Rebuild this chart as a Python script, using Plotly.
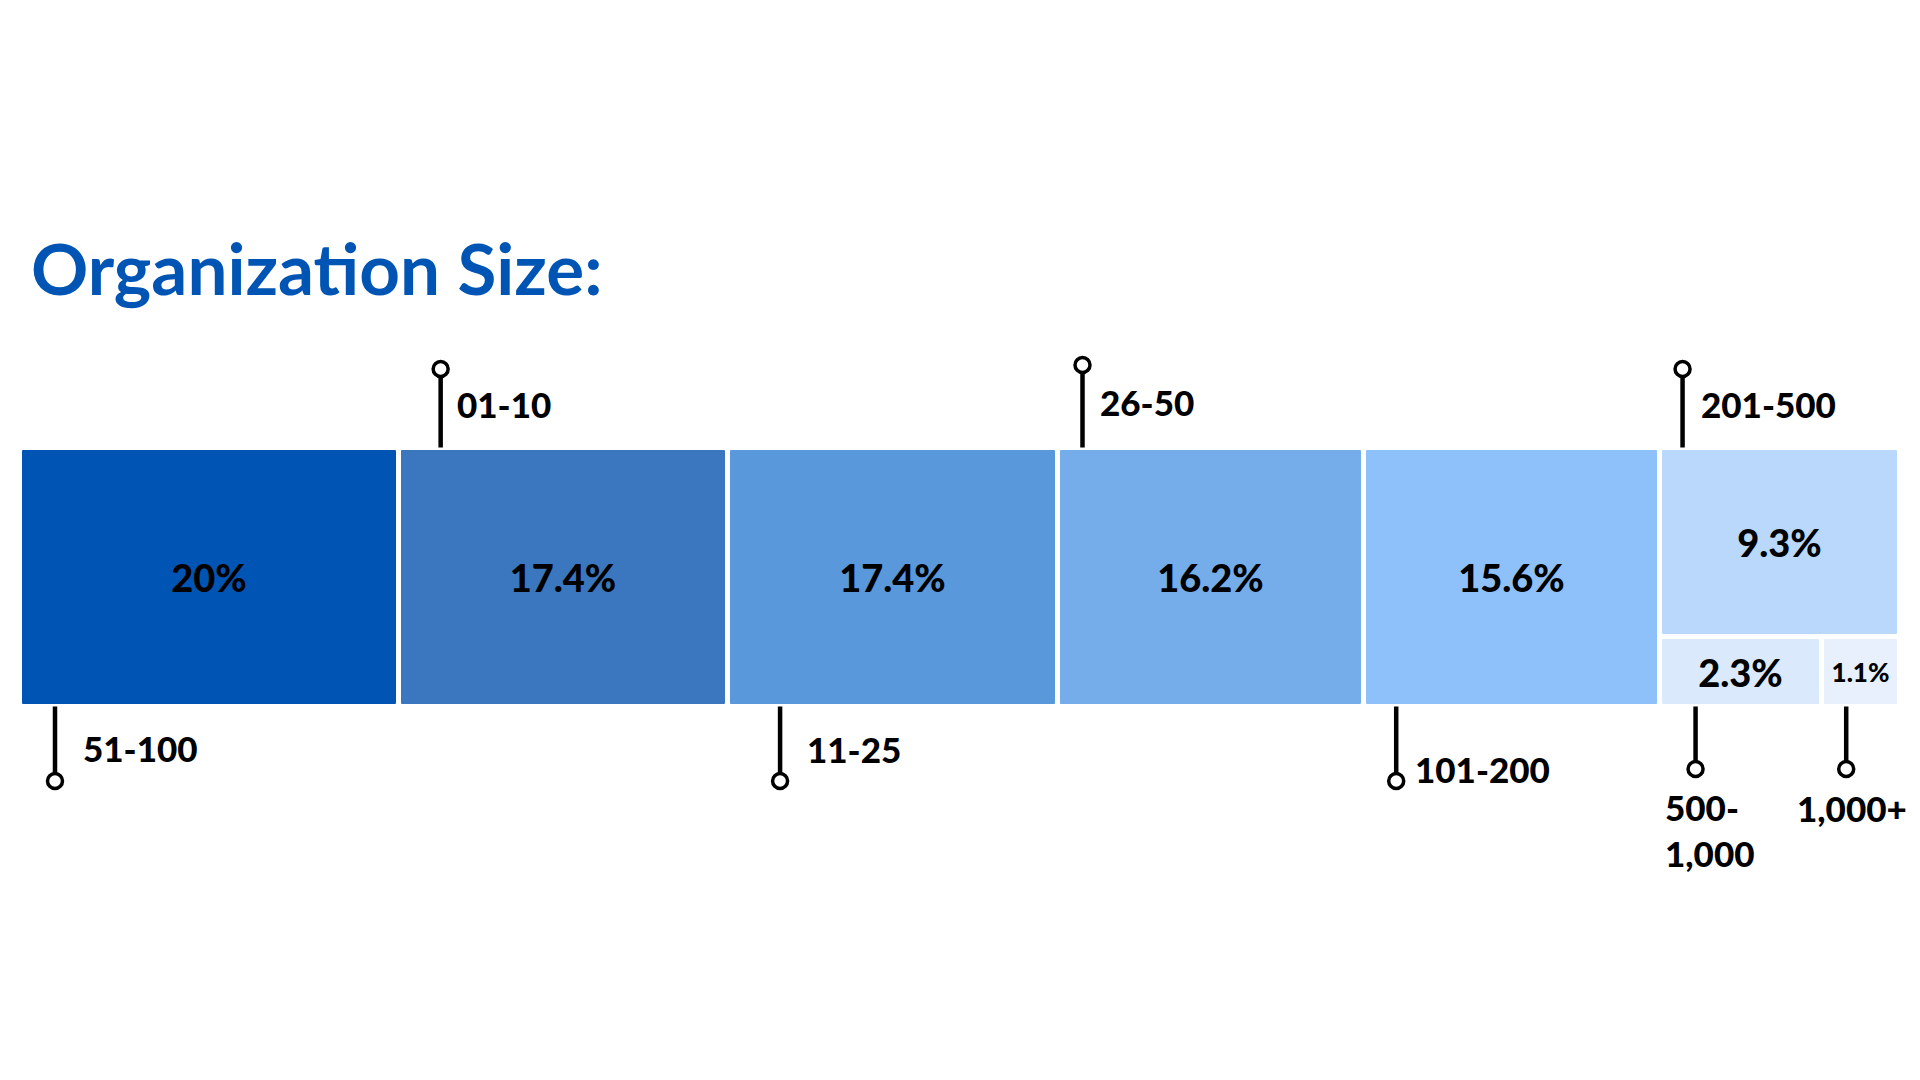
import plotly.graph_objects as go

# ---------------- data ----------------
categories = ["51-100", "01-10", "11-25", "26-50", "101-200", "201-500", "500-1,000", "1,000+"]
values = [20.0, 17.4, 17.4, 16.2, 15.6, 9.3, 2.3, 1.1]
value_labels = ["20%", "17.4%", "17.4%", "16.2%", "15.6%", "9.3%", "2.3%", "1.1%"]
colors = ["#0055B4", "#3A77BE", "#5A98DC", "#74ADEA", "#8EC0FA", "#B9D8FC", "#DAEAFC", "#E7F0FC"]
title_text = "Organization Size:"

# ---------------- geometry (slice-and-dice treemap) ----------------
W, H = 1920, 1080
OFF = 8                      # page body margin offset
ML, MR = 20 - OFF, 20 + OFF
PW = W - ML - MR
total = sum(values)
main = values[:5]
group = values[5:]           # 201-500 on top, then 500-1000 | 1000+ below
gw = sum(group)

lefts, widths, bases, heights = [], [], [], []
x = 0.0
for v in main:
    lefts.append(x); widths.append(v); bases.append(0.0); heights.append(1.0)
    x += v
gx = x
bottom_h = (group[1] + group[2]) / gw
lefts.append(gx); widths.append(gw); bases.append(bottom_h); heights.append(group[0] / gw)
w1 = gw * group[1] / (group[1] + group[2])
w2 = gw * group[2] / (group[1] + group[2])
lefts.append(gx); widths.append(w1); bases.append(0.0); heights.append(bottom_h)
lefts.append(gx + w1); widths.append(w2); bases.append(0.0); heights.append(bottom_h)
centers = [l + w / 2 for l, w in zip(lefts, widths)]

# pixel <-> data helpers (target picture: bar bottom at 706.5px, bar top at 447.5px)
Y0_PX, UNIT_PX = 706.5, 259.0
YMAX = (Y0_PX - OFF) / UNIT_PX
YMIN = (Y0_PX - OFF - H) / UNIT_PX
PX_PER_X = PW / total


def py(px):
    return (Y0_PX - px) / UNIT_PX


def dx(px):
    return px / PX_PER_X


# leader style: side, line offset from bar left (px), circle y (px), label dx (px), label y (px), anchor
leaders = [
    ("down", 35, 781, 26, 748, "left"),
    ("up", 42, 369, 14, 404, "left"),
    ("down", 52, 781, 25, 749, "left"),
    ("up", 25, 365, 15, 402, "left"),
    ("down", 32, 781, 17, 769, "left"),
    ("up", 23, 369, 16, 404, "left"),
    ("down", 36, 769, -33, 830, "left"),
    ("down", 24, 769, 6, 808, "center"),
]

fig = go.Figure()

fig.add_trace(go.Bar(
    x=centers, y=heights, base=bases, width=widths,
    marker=dict(color=colors, line=dict(color="white", width=5), cornerradius=4),
    text=value_labels, textposition="inside", insidetextanchor="middle",
    textangle=0, constraintext="none",
    textfont=dict(family="Lato", size=[38, 38, 38, 38, 38, 38, 38, 26], color="black", weight=900),
    hoverinfo="skip", showlegend=False,
))

circ_x, circ_y = [], []
for i, (side, off, cy, ldx, ly, anc) in enumerate(leaders):
    lx = lefts[i] + dx(off)
    y_edge = bases[i] + heights[i] if side == "up" else bases[i]
    fig.add_trace(go.Scatter(
        x=[lx, lx], y=[y_edge, py(cy)], mode="lines",
        line=dict(color="black", width=4.5), hoverinfo="skip", showlegend=False,
    ))
    circ_x.append(lx); circ_y.append(py(cy))
    label = categories[i].replace("500-1,000", "500-<br>1,000")
    fig.add_annotation(
        x=lx + dx(ldx), y=py(ly), xref="x", yref="y", text=label, showarrow=False,
        xanchor=anc, yanchor="middle", align="left",
        font=dict(family="Lato", size=35, color="black", weight=900),
    )

fig.add_trace(go.Scatter(
    x=circ_x, y=circ_y, mode="markers",
    marker=dict(symbol="circle", size=15, color="white", line=dict(color="black", width=3.5)),
    hoverinfo="skip", showlegend=False,
))

fig.add_annotation(
    x=(29 - OFF - ML) / PW, y=1 - (268 - OFF) / H, xref="paper", yref="paper",
    text=title_text, showarrow=False, xanchor="left", yanchor="middle",
    font=dict(family="Lato", size=71, color="#0055B4", weight="bold"),
)

fig.update_layout(
    width=W, height=H,
    margin=dict(l=ML, r=MR, t=0, b=0),
    paper_bgcolor="white", plot_bgcolor="white",
    barmode="overlay", bargap=0,
    xaxis=dict(range=[0, total], visible=False, fixedrange=True),
    yaxis=dict(range=[YMIN, YMAX], visible=False, fixedrange=True),
)

fig.write_html("out.html")
